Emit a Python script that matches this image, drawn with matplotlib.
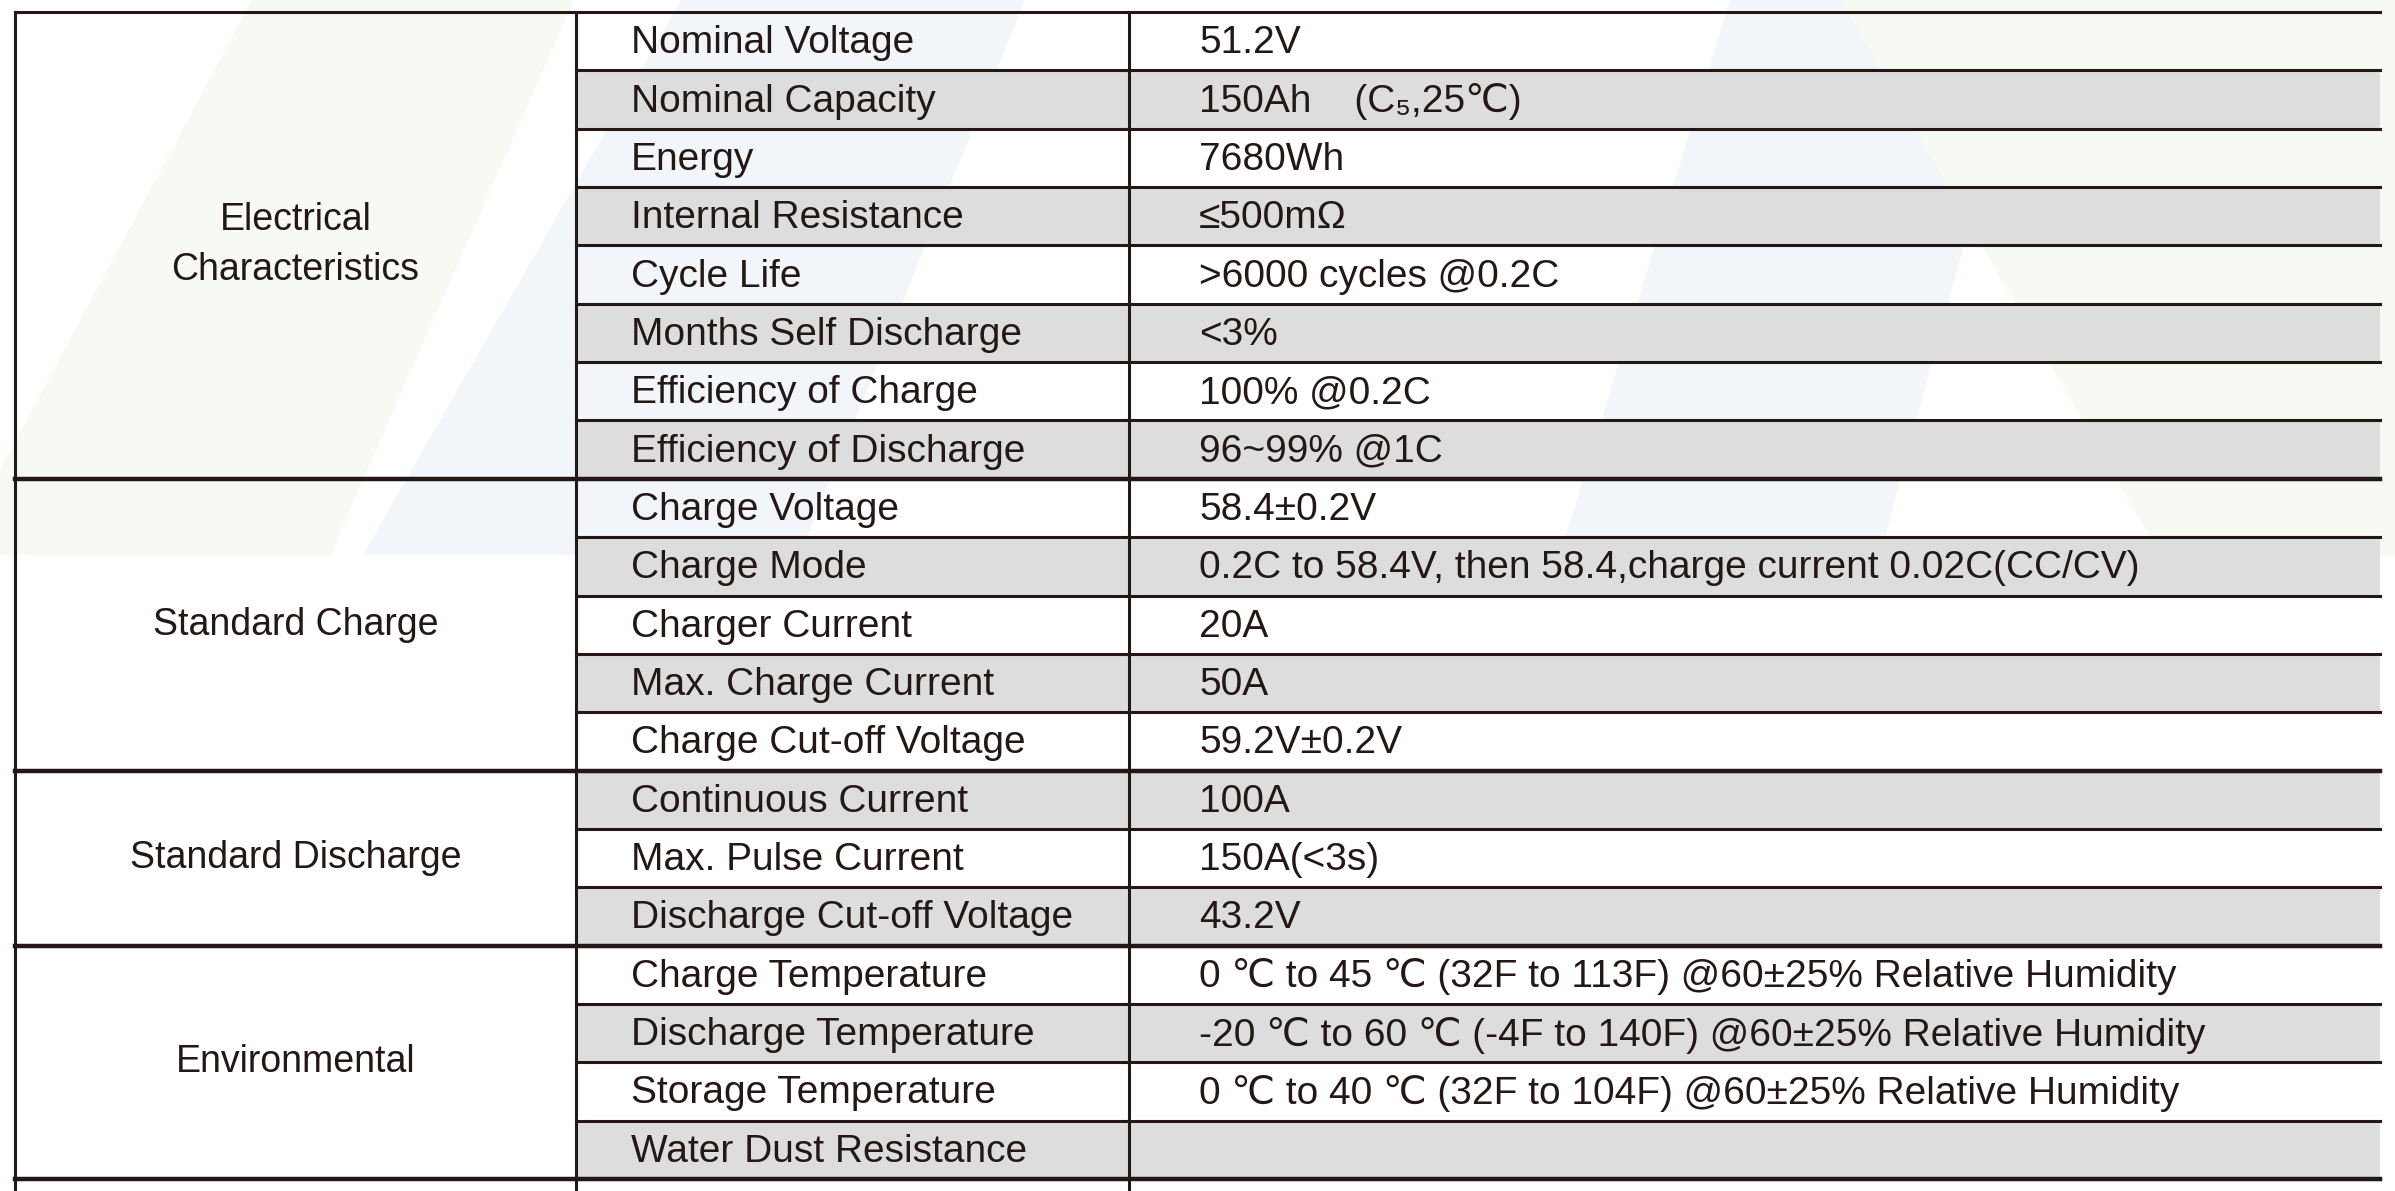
import matplotlib
matplotlib.use("Agg")
import matplotlib.pyplot as plt
from matplotlib.patches import Polygon, Rectangle

groups = ["Electrical\nCharacteristics", "Standard Charge", "Standard Discharge", "Environmental"]
group_sizes = [8, 5, 3, 4]
labels = ["Nominal Voltage", "Nominal Capacity", "Energy", "Internal Resistance", "Cycle Life",
          "Months Self Discharge", "Efficiency of Charge", "Efficiency of Discharge",
          "Charge Voltage", "Charge Mode", "Charger Current", "Max. Charge Current",
          "Charge Cut-off Voltage", "Continuous Current", "Max. Pulse Current",
          "Discharge Cut-off Voltage", "Charge Temperature", "Discharge Temperature",
          "Storage Temperature", "Water Dust Resistance"]
values = ["51.2V", "150Ah    (C₅,25℃)", "7680Wh", "≤500mΩ", ">6000 cycles @0.2C", "<3%",
          "100% @0.2C", "96~99% @1C", "58.4±0.2V",
          "0.2C to 58.4V, then 58.4,charge current 0.02C(CC/CV)", "20A", "50A", "59.2V±0.2V",
          "100A", "150A(<3s)", "43.2V",
          "0 ℃ to 45 ℃ (32F to 113F) @60±25% Relative Humidity",
          "-20 ℃ to 60 ℃ (-4F to 140F) @60±25% Relative Humidity",
          "0 ℃ to 40 ℃ (32F to 104F) @60±25% Relative Humidity", ""]
shaded = [0, 1, 0, 1, 0, 1, 0, 1, 0, 1, 0, 1, 0, 1, 0, 1, 0, 1, 0, 1]

W, H = 2395, 1191
fig = plt.figure(figsize=(W / 100, H / 100), dpi=100)
ax = fig.add_axes([0, 0, 1, 1])
ax.set_xlim(0, W); ax.set_ylim(H, 0); ax.axis("off")

# faint watermark stripes
stripes = [([(252, 0), (574, 0), (330, 555), (0, 555), (0, 470)], "#f7faf2"),
           ([(681, 0), (1025, 0), (800, 555), (363, 555)], "#f2f6fa"),
           ([(1730, 0), (2030, 0), (1880, 555), (1560, 555)], "#f2f6fa"),
           ([(1840, 0), (2395, 0), (2395, 555), (2160, 555)], "#f7faf2")]
for pts, c in stripes:
    ax.add_patch(Polygon(pts, closed=True, fc=c, ec="none", zorder=0))

fam = ["Liberation Sans", "DejaVu Sans"]
x0, x1, x2, x3 = 15, 576, 1129, 2380
top, rh = 12, 58.35
n = len(labels)
fs = 28
for i in range(n):
    y = top + i * rh
    if shaded[i]:
        ax.add_patch(Rectangle((x1, y), x3 - x1, rh, fc="#dcdddc", ec="none", zorder=1))
    ax.text(x1 + 55, y + rh / 2 + 2, labels[i], fontsize=fs, family=fam, va="center",
            ha="left", color="#231815", zorder=3)
    ax.text(x2 + 70, y + rh / 2 + 2, values[i], fontsize=fs, family=fam, va="center",
            ha="left", color="#231815", zorder=3)
    ax.plot([x1, x3], [y + rh, y + rh], color="#231815", lw=2.2, zorder=2)

ax.plot([x0, x3], [top, top], color="#231815", lw=2.2, zorder=2)
start = 0
for g, s in zip(groups, group_sizes):
    yb = top + (start + s) * rh
    yc = top + (start + s / 2) * rh
    ax.text((x0 + x1) / 2, yc, g, fontsize=fs - 1, family=fam, ha="center", va="center",
            color="#231815", linespacing=1.5, zorder=3)
    ax.plot([x0, x3], [yb, yb], color="#231815", lw=3.2, zorder=2)
    start += s
for x in (x0, x1, x2):
    ax.plot([x, x], [top, H], color="#231815", lw=2.2, zorder=2)

fig.savefig("out.png", dpi=100)
